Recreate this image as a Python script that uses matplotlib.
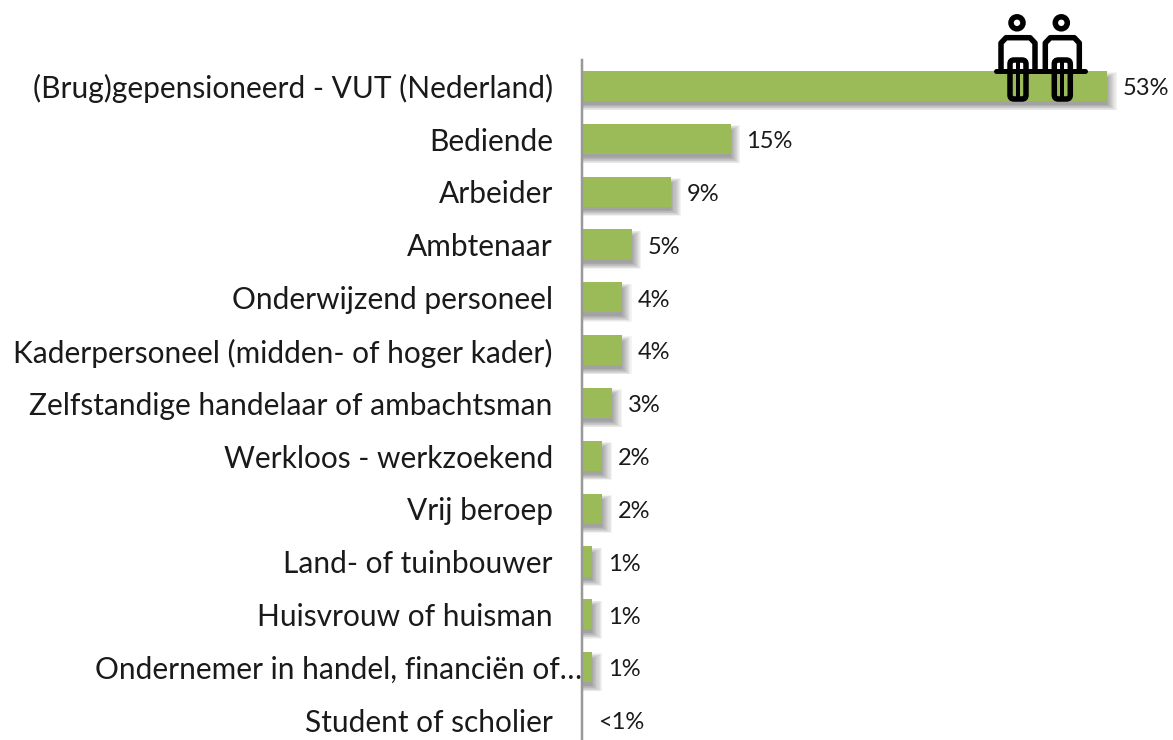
import matplotlib

matplotlib.use("Agg")

import matplotlib.pyplot as plt
from matplotlib.patches import Circle, FancyBboxPatch

CATEGORIES = [
    "(Brug)gepensioneerd - VUT (Nederland)",
    "Bediende",
    "Arbeider",
    "Ambtenaar",
    "Onderwijzend personeel",
    "Kaderpersoneel (midden- of hoger kader)",
    "Zelfstandige handelaar of ambachtsman",
    "Werkloos - werkzoekend",
    "Vrij beroep",
    "Land- of tuinbouwer",
    "Huisvrouw of huisman",
    "Ondernemer in handel, financiën of…",
    "Student of scholier",
]
VALUES = [53, 15, 9, 5, 4, 4, 3, 2, 2, 1, 1, 1, 0]
VALUE_LABELS = ["53%", "15%", "9%", "5%", "4%", "4%", "3%", "2%", "2%", "1%", "1%", "1%", "<1%"]

WIDTH, HEIGHT = 1173, 740
GREEN = "#9bbb59"
TEXT = "#1a1a1a"
PX = 0.72  # one pixel in points at dpi 100
ICON_LW = 5.5 * PX

plt.rcParams["font.family"] = ["Lato", "DejaVu Sans"]


def draw_person(ax, dx):
    ink = dict(edgecolor="black", facecolor="none", linewidth=ICON_LW)
    ax.add_patch(Circle((1017 + dx, 22.8), 6, **ink))
    ax.plot(
        [1001 + dx, 1001 + dx, 1006 + dx, 1030 + dx, 1035 + dx, 1035 + dx],
        [71, 43, 37.7, 37.7, 43, 71],
        color="black",
        linewidth=ICON_LW,
        solid_joinstyle="round",
    )
    ax.add_patch(
        FancyBboxPatch(
            (1010 + dx, 60), 16, 39, boxstyle="round,pad=0,rounding_size=4", **ink
        )
    )
    ax.plot([1018 + dx, 1018 + dx], [60, 99], color="black", linewidth=4 * PX)


def main():
    fig = plt.figure(figsize=(WIDTH / 100, HEIGHT / 100), dpi=100)
    ax = fig.add_axes([582 / WIDTH, 0, 1 - 582 / WIDTH, 680 / HEIGHT])
    ax.patch.set_alpha(0)

    positions = list(range(len(CATEGORIES)))

    # soft shadow, a stack of faint offset bars
    for step in range(10):
        grow = 1 - step / 9
        ax.barh(
            [p + 0.1 for p in positions],
            [v + grow * 1.0 if v > 0 else 0 for v in VALUES],
            height=0.5 + grow * 0.22,
            color="#303030",
            alpha=0.055,
            linewidth=0,
            zorder=1,
        )
    ax.barh(positions, VALUES, height=0.57, color=GREEN, linewidth=0, zorder=2)

    ax.set_xlim(0, (WIDTH - 582) / 9.9)
    # first bar centre at 86 px, rows 52.8 px apart, axes top at 60 px
    ax.set_ylim(12 + (740 - 720) / 52.8, -(86 - 60) / 52.8)

    for pos, name, value, text in zip(positions, CATEGORIES, VALUES, VALUE_LABELS):
        offset = -21 if not name.endswith("…") else 0
        ax.annotate(
            name,
            xy=(0, pos),
            xytext=(offset, -2),
            textcoords="offset points",
            ha="right",
            va="center",
            fontsize=21.5,
            color=TEXT,
            annotation_clip=False,
        )
        ax.annotate(
            text,
            xy=(value, pos),
            xytext=(11.5, -2),
            textcoords="offset points",
            ha="left",
            va="center",
            fontsize=17,
            color=TEXT,
        )

    for side in ["top", "right", "bottom"]:
        ax.spines[side].set_visible(False)
    ax.spines["left"].set_color("#999999")
    ax.spines["left"].set_linewidth(2.5 * PX)
    ax.spines["left"].set_zorder(3)
    ax.set_xticks([])
    ax.set_yticks([])

    # icon sits on top of the first bar, drawn in pixel coordinates
    overlay = fig.add_axes([0, 0, 1, 1])
    overlay.set_xlim(0, WIDTH)
    overlay.set_ylim(HEIGHT, 0)
    overlay.axis("off")
    overlay.patch.set_alpha(0)
    draw_person(overlay, 0)
    draw_person(overlay, 44.3)
    overlay.plot([996, 1085], [71, 71], color="black", linewidth=5 * PX, solid_capstyle="round")

    fig.savefig("out.png", dpi=100)
    plt.close(fig)


if __name__ == "__main__":
    main()
